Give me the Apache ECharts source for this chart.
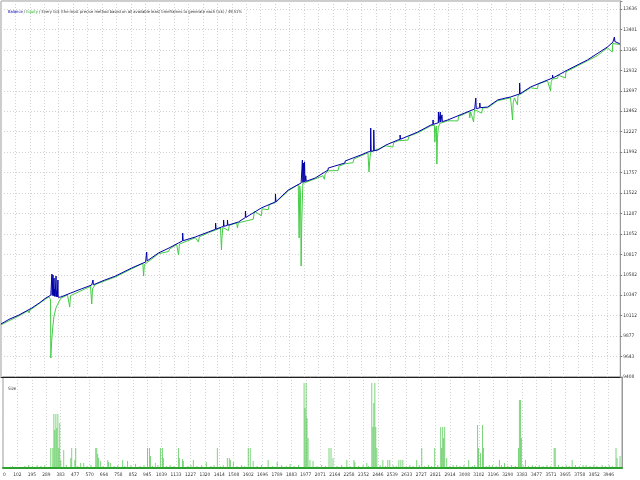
<!DOCTYPE html>
<html>
<head>
<meta charset="utf-8">
<script src="https://cdn.jsdelivr.net/npm/echarts@6/dist/echarts.min.js"></script>
<style>
  html, body { margin: 0; padding: 0; background: #fff; }
  #chart { width: 640px; height: 480px; }
</style>
</head>
<body>
<div id="chart"></div>
<script>
// tester graph: balance / equity by trade number, lot size below
const xTickLabels = ['0','102','195','289','383','477','570','664','758','852','945','1039','1133','1227','1320','1414','1508','1602','1696','1789','1883','1977','2071','2164','2258','2352','2446','2539','2633','2727','2821','2914','3008','3102','3196','3290','3383','3477','3571','3665','3758','3852','3946']
const yTickLabels = ['9408','9643','9877','10112','10347','10582','10817','11052','11287','11522','11757','11992','12227','12462','12697','12932','13166','13401','13636']

const xMin = 8.24
const xStep = 93.756
const xMax = 4033
const yMin = 9408
const yStep = 234.889
const yMax = 13728

const balanceTrades = [8,60,125,209,260,300,332,338,339,341,345,346,348,352,353,355,358,360,365,366,368,372,374,377,378,380,390,397,462,530,598,605,606,609,680,753,857,948,954,955,958,1032,1033,1035,1100,1162,1188,1189,1192,1272,1356,1402,1403,1406,1441,1454,1455,1458,1479,1480,1483,1551,1596,1597,1600,1700,1791,1792,1795,1875,1959,1966,1967,1970,1973,1974,1977,1980,1981,1984,1988,1989,1992,2050,2134,2135,2138,2244,2245,2248,2348,2393,2410,2411,2414,2430,2431,2434,2458,2510,2588,2601,2602,2605,2717,2802,2815,2816,2819,2850,2851,2854,2862,2863,2866,2873,2874,2877,2912,3022,3087,3093,3094,3097,3119,3120,3123,3171,3236,3288,3320,3378,3379,3382,3450,3560,3592,3593,3596,3690,3819,3949,3985,3994,3995,3998,4005,4030]
const balanceValues = [10017,10070,10120,10201,10262,10316,10348,10350,10591,10346,10345,10580,10342,10338,10545,10336,10420,10334,10332,10568,10330,10400,10328,10326,10522,10324,10322,10327,10373,10420,10465,10466,10522,10468,10520,10568,10660,10729,10740,10844,10742,10833,10850,10835,10890,10948,10972,11062,10974,11017,11074,11105,11177,11107,11131,11138,11212,11140,11150,11212,11152,11189,11240,11315,11242,11350,11419,11511,11421,11556,11637,11641,11901,11643,11645,11867,11647,11649,11880,11651,11654,11720,11657,11694,11786,11809,11788,11867,11890,11869,11959,11993,12000,12269,12002,12006,12246,12008,12016,12073,12131,12138,12188,12140,12223,12303,12310,12361,12312,12328,12453,12330,12334,12453,12336,12340,12420,12342,12361,12441,12487,12490,12613,12492,12500,12556,12502,12510,12591,12613,12625,12660,12786,12662,12740,12820,12842,12878,12844,12935,13050,13199,13255,13265,13314,13262,13250,13236]

const equityTrades = [8,125,185,190,195,209,300,319,330,332,334,338,345,352,365,384,397,440,455,460,462,590,598,603,620,753,857,930,935,940,948,1032,1097,1105,1150,1162,1168,1272,1291,1298,1356,1435,1441,1444,1450,1486,1492,1540,1545,1551,1648,1655,1700,1705,1745,1752,1791,1875,1940,1946,1950,1955,1959,1963,1970,2050,2100,2110,2115,2134,2199,2205,2244,2296,2302,2348,2393,2400,2405,2410,2510,2555,2560,2588,2653,2660,2717,2802,2825,2828,2832,2838,2841,2845,2850,2860,2912,2977,2983,3022,3050,3055,3060,3080,3084,3087,3132,3138,3171,3236,3320,3330,3333,3337,3345,3365,3368,3450,3495,3500,3560,3580,3584,3592,3625,3630,3677,3680,3690,3819,3884,3890,3949,3981,3984,3994,4030]
const equityValues = [10008,10110,10170,10143,10178,10192,10306,10328,10300,9626,9700,9833,9983,10100,10200,10270,10312,10352,10212,10342,10364,10450,10247,10420,10470,10559,10651,10714,10568,10700,10720,10824,10850,10880,10930,10810,10936,11008,10960,11020,11065,11120,10867,11000,11126,11090,11150,11178,11120,11180,11220,11312,11260,11340,11330,11390,11410,11547,11620,11005,11600,11500,10683,11200,11632,11685,11720,11680,11740,11777,11780,11830,11858,11870,11912,11950,11984,11763,11900,11991,12064,12050,12100,12122,12130,12175,12214,12294,12300,12108,12260,12292,11855,12150,12270,12322,12352,12350,12405,12432,12458,12384,12455,12338,12450,12478,12440,12500,12501,12582,12616,12620,12361,12560,12615,12533,12640,12731,12720,12775,12811,12694,12800,12832,12840,12875,12843,12915,12926,13041,13100,13120,13190,13142,13240,13256,13228]

const sizeTrades = [30,70,105,150,175,200,230,255,280,319,332,339,345,352,358,365,371,377,384,403,420,449,455,475,481,495,513,533,555,580,611,618,624,630,643,660,689,695,708,730,755,786,800,818,840,870,900,925,948,961,967,980,999,1015,1032,1045,1051,1070,1095,1120,1149,1155,1175,1181,1210,1230,1246,1270,1300,1330,1360,1380,1402,1420,1440,1467,1480,1487,1506,1530,1560,1580,1603,1616,1635,1660,1690,1732,1760,1791,1820,1850,1875,1900,1930,1966,1972,1979,1985,1992,2004,2024,2050,2080,2105,2128,2141,2154,2180,2210,2244,2265,2290,2296,2320,2350,2374,2385,2406,2413,2419,2426,2432,2439,2460,2478,2495,2510,2523,2545,2565,2582,2595,2608,2630,2653,2675,2698,2715,2731,2750,2775,2795,2815,2835,2854,2860,2867,2873,2880,2893,2915,2935,2958,2980,3005,3036,3060,3075,3094,3100,3113,3126,3132,3150,3170,3190,3215,3236,3250,3269,3290,3315,3340,3360,3366,3373,3379,3390,3405,3425,3450,3470,3495,3520,3545,3570,3592,3599,3620,3645,3670,3690,3709,3730,3755,3780,3800,3825,3850,3870,3904,3925,3950,3970,3994,4001,4020]
const sizeLots = [0.01,0.02,0.01,0.02,0.03,0.02,0.03,0.02,0.03,0.20,0.20,0.54,0.38,0.54,0.40,0.54,0.20,0.45,0.08,0.18,0.03,0.10,0.20,0.08,0.20,0.02,0.05,0.05,0.02,0.03,0.20,0.20,0.14,0.10,0.07,0.02,0.08,0.06,0.05,0.02,0.03,0.08,0.02,0.07,0.03,0.04,0.02,0.03,0.20,0.20,0.12,0.02,0.05,0.03,0.20,0.20,0.10,0.02,0.03,0.02,0.20,0.10,0.09,0.07,0.02,0.03,0.08,0.02,0.03,0.06,0.02,0.03,0.20,0.02,0.03,0.10,0.10,0.08,0.06,0.02,0.03,0.02,0.20,0.20,0.07,0.02,0.03,0.08,0.02,0.06,0.03,0.02,0.04,0.02,0.03,0.85,0.60,0.85,0.50,0.30,0.08,0.07,0.02,0.03,0.02,0.20,0.20,0.10,0.02,0.03,0.08,0.02,0.08,0.06,0.02,0.03,0.05,0.02,0.85,0.41,0.65,0.85,0.41,0.20,0.03,0.08,0.02,0.08,0.08,0.03,0.02,0.08,0.08,0.08,0.02,0.03,0.02,0.08,0.03,0.20,0.02,0.03,0.02,0.20,0.03,0.41,0.20,0.41,0.30,0.41,0.10,0.02,0.03,0.03,0.02,0.03,0.08,0.02,0.03,0.43,0.20,0.15,0.43,0.20,0.02,0.03,0.03,0.02,0.08,0.03,0.05,0.02,0.03,0.02,0.20,0.68,0.68,0.30,0.03,0.08,0.02,0.03,0.02,0.03,0.02,0.03,0.02,0.20,0.20,0.03,0.02,0.03,0.02,0.08,0.03,0.02,0.03,0.03,0.02,0.03,0.02,0.03,0.02,0.03,0.02,0.20,0.10,0.12]

const font = 'Liberation Sans Narrow, DejaVu Sans Condensed, sans-serif'
const gridDash = { color: '#d2d2d2', type: [1, 2], width: 1 }

function pick(labels, start, step) {
  return function (v) {
    const i = Math.round((v - start) / step)
    if (Math.abs(v - (start + i * step)) > 0.5) return ''
    return labels[i] || ''
  }
}

const zip = (a, b) => a.map((t, i) => [t, b[i]])

const chart = echarts.init(document.getElementById('chart'))
chart.setOption({
  animation: false,
  backgroundColor: '#ffffff',
  title: [
    {
      left: 3, top: 5,
      text: '{b|Balance} / {e|Equity} / Every tick (the most precise method based on all available least timeframes to generate each tick) / 49.51%',
      textStyle: {
        fontSize: 4.1, fontWeight: 'normal', fontFamily: font, color: '#333',
        rich: {
          b: { fontSize: 4.1, fontFamily: font, color: '#0000b0' },
          e: { fontSize: 4.1, fontFamily: font, color: '#22b022' },
        },
      },
    },
    {
      left: 3, top: 381, text: 'Size',
      textStyle: { fontSize: 4.5, fontWeight: 'normal', fontFamily: font, color: '#333' },
    },
  ],
  grid: [
    { left: 1, top: 1, right: 18, height: 376, show: true, borderColor: '#9a9a9a', borderWidth: 1 },
    { left: 1, top: 377, right: 18, height: 91, show: true, borderColor: '#9a9a9a', borderWidth: 1 },
  ],
  xAxis: [
    {
      type: 'value', gridIndex: 0, min: xMin, max: xMax, interval: xStep,
      axisLabel: { show: false },
      axisTick: { show: false },
      axisLine: { show: true, onZero: false, lineStyle: { color: '#202020', width: 1 } },
      splitLine: { show: true, lineStyle: gridDash },
    },
    {
      type: 'value', gridIndex: 1, min: xMin, max: xMax, interval: xStep,
      axisLabel: {
        fontSize: 4.8, fontFamily: font, color: '#333', margin: 4,
        alignMinLabel: 'left',
        formatter: pick(xTickLabels, xMin, xStep),
      },
      axisTick: { show: false },
      axisLine: { show: true, onZero: false, lineStyle: { color: '#2f9f2f', width: 2 } },
      splitLine: { show: true, lineStyle: gridDash },
    },
  ],
  yAxis: [
    {
      type: 'value', gridIndex: 0, position: 'right', min: yMin, max: yMax, interval: yStep,
      axisLabel: {
        fontSize: 4.8, fontFamily: font, color: '#333', margin: 3,
        formatter: pick(yTickLabels, yMin, yStep),
      },
      axisTick: { show: true, length: 2, lineStyle: { color: '#808080' } },
      axisLine: { show: true, lineStyle: { color: '#9a9a9a' } },
      splitLine: { show: true, lineStyle: gridDash },
    },
    {
      type: 'value', gridIndex: 1, position: 'right', min: 0, max: 0.91,
      axisLabel: { show: false },
      axisTick: { show: false },
      axisLine: { show: true, lineStyle: { color: '#9a9a9a' } },
      splitLine: { show: false },
    },
  ],
  series: [
    {
      name: 'Equity', type: 'line', xAxisIndex: 0, yAxisIndex: 0,
      data: zip(equityTrades, equityValues),
      symbol: 'none', z: 2,
      lineStyle: { color: '#45cc45', width: 1 },
    },
    {
      name: 'Balance', type: 'line', xAxisIndex: 0, yAxisIndex: 0,
      data: zip(balanceTrades, balanceValues),
      symbol: 'none', z: 3,
      lineStyle: { color: '#0000a8', width: 1 },
    },
    {
      name: 'Size', type: 'bar', xAxisIndex: 1, yAxisIndex: 1,
      data: zip(sizeTrades, sizeLots),
      barWidth: 1, z: 2,
      itemStyle: { color: 'rgba(40,185,40,0.6)' },
    },
  ],
})
</script>
</body>
</html>
